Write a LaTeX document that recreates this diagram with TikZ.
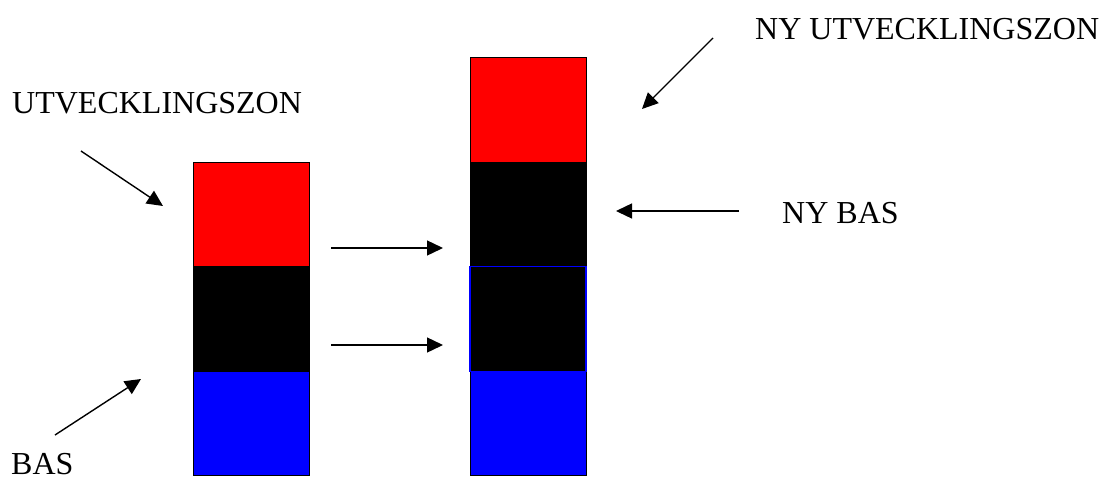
\documentclass[tikz,border=0pt]{standalone}
\usepackage{fontspec}
\setmainfont{Liberation Serif}
\usetikzlibrary{positioning,arrows.meta}
\tikzset{
  zone/.style={draw=black, line width=0.8pt, minimum width=116pt, minimum height=104.5pt, inner sep=0pt, outer sep=0pt},
  pil/.style={line width=1.4pt, -{Triangle[length=16pt,width=15pt]}},
  etikett/.style={anchor=base west, inner sep=0pt, font=\fontsize{32}{38}\selectfont}
}
\begin{document}
\begin{tikzpicture}[x=1pt,y=-1pt]
  \useasboundingbox (0,0) rectangle (1101,482);
  % gamla stapeln
  \node[zone, fill=blue] (bas) at (251,423.5) {};
  \node[zone, fill=black, above=0pt of bas] (svart) {};
  \node[zone, fill=red, above=0pt of svart] (utv) {};
  % nya stapeln
  \node[zone, fill=blue] (nybas1) at (528,423.5) {};
  \node[zone, fill=black, above=0pt of nybas1] (nybas2) {};
  \node[zone, fill=black, above=0pt of nybas2] (nybas3) {};
  \node[zone, fill=red, above=0pt of nybas3] (nyutv) {};
  \draw[blue, line width=1.3pt] (nybas2.south west) rectangle (nybas2.north east);
  % texter
  \node[etikett] (tutv) at (12,113) {UTVECKLINGSZON};
  \node[etikett] (tbas) at (11,474) {BAS};
  \node[etikett] (tnyutv) at (755,39) {NY UTVECKLINGSZON};
  \node[etikett] (tnybas) at (782,223) {NY BAS};
  % pilar
  \coordinate (a1) at (81,151);   \coordinate (a2) at (163,206);
  \coordinate (b1) at (55,435);   \coordinate (b2) at (141,379);
  \coordinate (c1) at (331,248);  \coordinate (c2) at (443,248);
  \coordinate (d1) at (331,345);  \coordinate (d2) at (443,345);
  \coordinate (e1) at (713,38);   \coordinate (e2) at (642,109);
  \coordinate (f1) at (739,211);  \coordinate (f2) at (616,211);
  \draw[pil] (a1) -- (a2);
  \draw[pil] (b1) -- (b2);
  \draw[pil] (c1) -- (c2);
  \draw[pil] (d1) -- (d2);
  \draw[pil] (e1) -- (e2);
  \draw[pil] (f1) -- (f2);
\end{tikzpicture}
\end{document}
